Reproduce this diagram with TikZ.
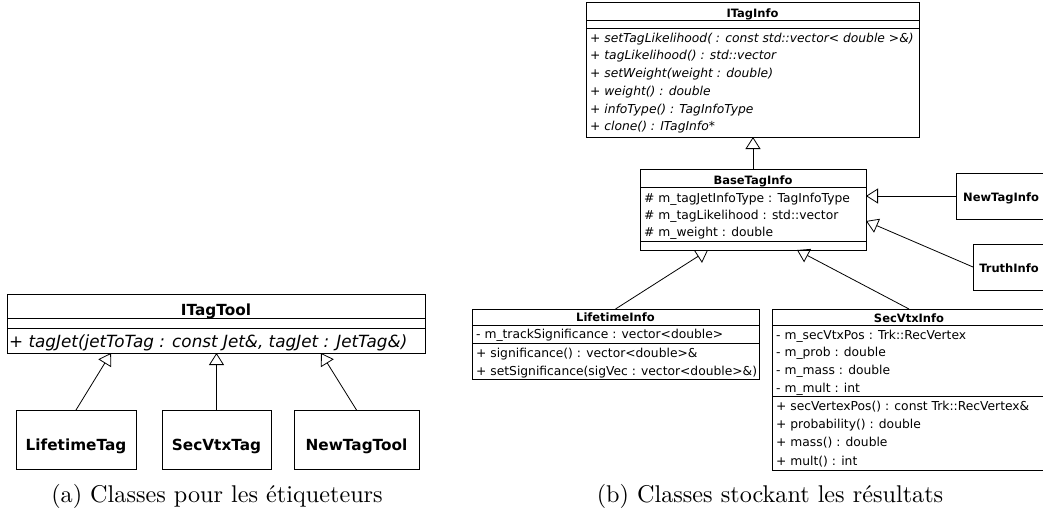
\documentclass[tikz,border=0pt]{standalone}
\usepackage{fontspec}
\usepackage{graphicx}
\usetikzlibrary{arrows.meta}
\newfontfamily\umlfont{DejaVu Sans}
\tikzset{
  cls/.style={draw, line width=0.9pt, rectangle, inner sep=0pt, outer sep=0pt},
  sepline/.style={line width=0.9pt},
  inh/.style={line width=0.8pt, -{Triangle[open, length=12pt, width=15pt, line width=0.8pt]}},
  ttlR/.style={inner sep=0pt, anchor=base, font=\umlfont\bfseries\fontsize{11.5}{13}\selectfont},
  rowR/.style={inner sep=0pt, anchor=base west, font=\umlfont\fontsize{12.3}{14}\selectfont},
  rowRi/.style={rowR, font=\umlfont\itshape\fontsize{12.3}{14}\selectfont},
  ttlL/.style={inner sep=0pt, anchor=base, font=\umlfont\bfseries\fontsize{15.3}{18}\selectfont},
  rowLi/.style={inner sep=0pt, anchor=base west, font=\umlfont\itshape\fontsize{16.8}{19}\selectfont},
  capt/.style={inner sep=0pt, anchor=base, font=\fontsize{10}{12}\selectfont},
}
\begin{document}
\begin{tikzpicture}[x=1pt, y=-1pt]
\useasboundingbox (0,0) rectangle (1043,523);

% ---------------- (a) ----------------
\node[cls, minimum width=418pt, minimum height=59pt] (ITagTool) at (216,323.5) {};
\node[ttlL] (ITagToolT) at (216,315.5) {ITagTool};
\draw[sepline] (ITagTool.west |- 0,318) -- (ITagTool.east |- 0,318);
\draw[sepline] (ITagTool.west |- 0,328) -- (ITagTool.east |- 0,328);
\node[rowLi] (ITagToolOp) at (9,347.5) {+ tagJet(jetToTag : const Jet\&, tagJet : JetTag\&)};

\node[cls, minimum width=120pt, minimum height=59pt] (LifetimeTag) at (76,439.5) {};
\node[ttlL] (LifetimeTagT) at (76,450) {LifetimeTag};
\node[cls, minimum width=109pt, minimum height=59pt] (SecVtxTag) at (216.5,439.5) {};
\node[ttlL] (SecVtxTagT) at (216.5,450) {SecVtxTag};
\node[cls, minimum width=125pt, minimum height=59pt] (NewTagTool) at (356.5,439.5) {};
\node[ttlL] (NewTagToolT) at (356.5,450) {NewTagTool};

\coordinate (tA1) at (111,353);
\coordinate (tA3) at (321,353);
\draw[inh] (LifetimeTag.north) -- (tA1);
\draw[inh] (SecVtxTag.north) -- (SecVtxTag.north |- ITagTool.south);
\draw[inh] (NewTagTool.north) -- (tA3);

\node[capt] (capA) at (217,502) {\scalebox{2.42}{(a) Classes pour les étiqueteurs}};

% ---------------- (b) ----------------
\node[cls, minimum width=333pt, minimum height=135pt] (ITagInfo) at (752.5,69.5) {};
\node[ttlR] (ITagInfoT) at (752.5,17.3) {ITagInfo};
\draw[sepline] (ITagInfo.west |- 0,20.7) -- (ITagInfo.east |- 0,20.7);
\draw[sepline] (ITagInfo.west |- 0,28.3) -- (ITagInfo.east |- 0,28.3);
\foreach \t [count=\i] in {
  {+ setTagLikelihood( : const std::vector< double >\&)},
  {+ tagLikelihood() : std::vector},
  {+ setWeight(weight : double)},
  {+ weight() : double},
  {+ infoType() : TagInfoType},
  {+ clone() : ITagInfo*}}
  \node[rowRi] (iti\i) at (590,{42.2+17.7*(\i-1)}) {\t};

\node[cls, minimum width=226pt, minimum height=81pt] (BaseTagInfo) at (753,209.5) {};
\node[ttlR] (BaseTagInfoT) at (753,184.5) {BaseTagInfo};
\draw[sepline] (BaseTagInfo.west |- 0,187) -- (BaseTagInfo.east |- 0,187);
\draw[sepline] (BaseTagInfo.west |- 0,241) -- (BaseTagInfo.east |- 0,241);
\node[rowR] (bti1) at (644,202.3) {\# m\_tagJetInfoType : TagInfoType};
\node[rowR] (bti2) at (644,219.5) {\# m\_tagLikelihood : std::vector};
\node[rowR] (bti3) at (644,236.7) {\# m\_weight : double};

\node[cls, minimum width=90pt, minimum height=46pt] (NewTagInfo) at (1001,196) {};
\node[ttlR] (NewTagInfoT) at (1001,201.7) {NewTagInfo};
\node[cls, minimum width=72pt, minimum height=46pt] (TruthInfo) at (1009,267) {};
\node[ttlR] (TruthInfoT) at (1009,272.7) {TruthInfo};

\node[cls, minimum width=287pt, minimum height=70pt] (LifetimeInfo) at (615.5,344) {};
\node[ttlR] (LifetimeInfoT) at (615.5,321.7) {LifetimeInfo};
\draw[sepline] (LifetimeInfo.west |- 0,325) -- (LifetimeInfo.east |- 0,325);
\draw[sepline] (LifetimeInfo.west |- 0,343.3) -- (LifetimeInfo.east |- 0,343.3);
\node[rowR] (lti1) at (476,338.5) {- m\_trackSignificance : vector<double>};
\node[rowR] (lti2) at (476,357.5) {+ significance() : vector<double>\&};
\node[rowR] (lti3) at (476,375) {+ setSignificance(sigVec : vector<double>\&)};

\node[cls, minimum width=274pt, minimum height=161pt] (SecVtxInfo) at (909,389.5) {};
\node[ttlR] (SecVtxInfoT) at (909,322) {SecVtxInfo};
\draw[sepline] (SecVtxInfo.west |- 0,325) -- (SecVtxInfo.east |- 0,325);
\draw[sepline] (SecVtxInfo.west |- 0,396) -- (SecVtxInfo.east |- 0,396);
\node[rowR] (svi1) at (776,339) {- m\_secVtxPos : Trk::RecVertex};
\node[rowR] (svi2) at (776,356.7) {- m\_prob : double};
\node[rowR] (svi3) at (776,374.3) {- m\_mass : double};
\node[rowR] (svi4) at (776,392) {- m\_mult : int};
\node[rowR] (svi5) at (776,410.7) {+ secVertexPos() : const Trk::RecVertex\&};
\node[rowR] (svi6) at (776,428.3) {+ probability() : double};
\node[rowR] (svi7) at (776,446.7) {+ mass() : double};
\node[rowR] (svi8) at (776,465) {+ mult() : int};

\coordinate (tB1) at (866,221);
\coordinate (tB2) at (708,250);
\coordinate (tB3) at (797,250);
\draw[inh] (BaseTagInfo.north) -- (BaseTagInfo.north |- ITagInfo.south);
\draw[inh] (NewTagInfo.west) -- (NewTagInfo.west -| BaseTagInfo.east);
\draw[inh] (TruthInfo.west) -- (tB1);
\draw[inh] (LifetimeInfo.north) -- (tB2);
\draw[inh] (SecVtxInfo.north) -- (tB3);

\node[capt] (capB) at (770,502) {\scalebox{2.42}{(b) Classes stockant les résultats}};
\end{tikzpicture}
\end{document}
